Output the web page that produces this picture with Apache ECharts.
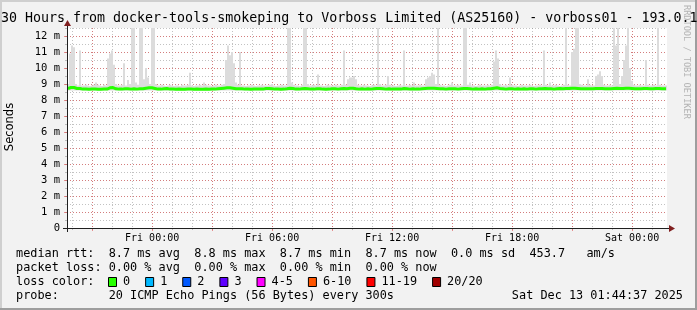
<!DOCTYPE html>
<html><head><meta charset="utf-8">
<script src="https://cdn.jsdelivr.net/npm/echarts@6/dist/echarts.min.js"></script>
<style>html,body{margin:0;padding:0;background:#f2f2f2}#c{width:697px;height:310px}</style>
</head><body><div id="c"></div>
<script>
// ---------- data ----------
const titleText = '30 Hours from docker-tools-smokeping to Vorboss Limited (AS25160) - vorboss01 - 193.0.1';
const startHour = 19 + 44 / 60 + 37 / 3600;   // Thu 19:44:37 in hours since Thu 00:00
const spanHours = 30;
const sampleStep = 0.1;                        // hours per sample
const minorHours = [20,21,22,23,24,25,26,27,28,29,30,31,32,33,34,35,36,37,38,39,40,41,42,43,44,45,46,47,48,49];
const majorHours = [21,24,27,30,33,36,39,42,45,48];
const labelHours = [24,30,36,42,48];
const labelTexts = ['Fri 00:00','Fri 06:00','Fri 12:00','Fri 18:00','Sat 00:00'];
const yMajorTicks = [0,1,2,3,4,5,6,7,8,9,10,11,12];
const minRtt = 8.6;

const medianRtt = [
8.72,8.78,8.8,8.78,8.72,8.7,8.72,8.68,8.68,8.68,8.67,8.67,8.68,8.68,8.68,8.67,8.67,8.68,8.68,8.68,
8.72,8.76,8.78,8.74,8.7,8.68,8.68,8.68,8.7,8.68,8.7,8.68,8.7,8.7,8.68,8.68,8.7,8.7,8.72,8.74,
8.76,8.78,8.76,8.72,8.7,8.68,8.68,8.67,8.7,8.72,8.7,8.68,8.68,8.67,8.67,8.68,8.68,8.67,8.67,8.68,
8.68,8.68,8.67,8.67,8.68,8.68,8.67,8.67,8.68,8.68,8.67,8.67,8.68,8.68,8.68,8.7,8.72,8.72,8.74,8.76,
8.78,8.76,8.74,8.72,8.7,8.7,8.72,8.7,8.68,8.68,8.68,8.67,8.68,8.68,8.68,8.67,8.68,8.68,8.7,8.72,
8.72,8.7,8.7,8.68,8.68,8.68,8.67,8.67,8.68,8.7,8.72,8.74,8.72,8.7,8.68,8.68,8.7,8.7,8.72,8.72,
8.7,8.68,8.68,8.68,8.7,8.72,8.7,8.68,8.68,8.67,8.68,8.68,8.7,8.7,8.68,8.68,8.7,8.72,8.72,8.7,
8.72,8.74,8.74,8.72,8.7,8.68,8.68,8.7,8.68,8.68,8.7,8.68,8.68,8.7,8.72,8.74,8.72,8.7,8.68,8.68,
8.7,8.7,8.68,8.68,8.7,8.68,8.68,8.7,8.72,8.7,8.68,8.68,8.7,8.7,8.68,8.68,8.7,8.7,8.72,8.72,
8.74,8.74,8.76,8.74,8.72,8.72,8.7,8.7,8.68,8.68,8.7,8.68,8.7,8.7,8.68,8.68,8.7,8.7,8.72,8.72,
8.7,8.7,8.68,8.68,8.7,8.68,8.68,8.7,8.68,8.68,8.7,8.7,8.72,8.74,8.76,8.74,8.72,8.7,8.68,8.68,
8.7,8.72,8.7,8.68,8.68,8.7,8.68,8.68,8.7,8.68,8.68,8.7,8.7,8.68,8.68,8.7,8.7,8.7,8.72,8.7,
8.7,8.7,8.68,8.68,8.7,8.7,8.72,8.7,8.7,8.72,8.72,8.72,8.74,8.74,8.72,8.72,8.7,8.7,8.7,8.7,
8.72,8.7,8.7,8.7,8.72,8.72,8.74,8.72,8.7,8.7,8.7,8.7,8.72,8.72,8.74,8.74,8.72,8.72,8.74,8.74,
8.74,8.72,8.72,8.7,8.7,8.7,8.7,8.7,8.72,8.72,8.7,8.7,8.7,8.7,8.72,8.72,8.7,8.7,8.7,8.7
];

const smokeMax = [
9.0,10.9,11.4,11.3,9.0,8.9,11.1,8.9,8.9,8.95,8.9,8.88,8.9,8.95,9.1,8.95,8.9,8.88,8.95,8.9,
10.6,10.9,11.1,10.2,9.0,8.9,8.9,8.95,10.3,8.9,9.25,9.0,13.5,13.5,9.1,8.95,13.5,13.2,9.3,10.0,
9.4,9.0,13.5,13.2,9.0,8.9,8.9,8.95,8.9,8.88,8.9,8.95,8.9,8.88,8.9,8.9,8.88,8.95,8.9,8.9,
8.95,9.7,8.9,8.88,8.9,8.9,8.95,8.9,9.1,8.95,8.9,8.9,8.88,8.9,8.95,8.9,8.9,8.95,9.0,10.5,
11.4,10.8,11.0,10.3,9.1,8.95,11.0,8.9,8.9,8.88,8.9,8.9,8.95,8.9,8.88,8.9,8.9,8.95,8.9,8.9,
8.9,8.95,9.0,8.9,8.88,8.9,8.9,8.95,8.9,8.9,13.5,13.5,9.1,8.95,8.9,8.9,8.88,8.95,13.5,13.2,
9.0,8.9,8.9,8.95,8.9,9.6,8.9,8.9,8.88,8.9,8.95,8.9,8.9,8.9,8.95,8.9,8.9,8.95,11.1,8.95,
9.3,9.4,9.4,9.5,9.3,8.95,8.9,8.9,8.95,8.9,8.9,8.88,8.9,8.95,8.9,13.5,9.0,8.9,8.9,8.95,
9.5,8.95,8.9,8.9,8.88,8.9,8.95,8.9,11.1,8.9,8.9,8.95,8.9,9.1,8.9,8.9,8.95,8.9,8.9,9.3,
9.4,9.5,9.7,9.6,9.0,13.5,8.95,8.9,8.9,8.88,8.9,8.95,9.1,8.9,8.9,8.95,8.9,8.9,13.5,13.5,
8.95,9.1,8.9,8.9,8.88,8.9,8.95,8.9,8.9,8.9,8.95,8.9,8.95,10.4,11.1,10.6,9.0,8.9,8.9,8.95,
8.9,9.4,8.95,8.9,8.9,8.88,8.9,8.95,8.9,8.9,8.9,8.95,8.9,8.88,8.9,8.9,8.95,8.9,11.1,8.95,
8.9,9.1,8.9,8.9,8.95,8.9,8.88,8.9,8.95,13.5,8.95,8.9,11.0,11.2,13.5,13.2,9.0,8.95,8.9,8.9,
9.3,8.95,8.9,8.9,9.5,9.6,9.8,9.5,8.95,8.9,8.9,8.95,8.9,13.5,11.4,13.5,9.0,9.5,10.5,11.4,
13.5,10.0,9.2,8.95,8.9,8.9,8.95,8.9,8.9,10.5,8.95,8.9,8.9,8.95,8.9,13.5,8.95,8.9,8.9,8.9
];

const statsLines = [
  'median rtt:  8.7 ms avg  8.8 ms max  8.7 ms min  8.7 ms now  0.0 ms sd  453.7   am/s',
  'packet loss: 0.00 % avg  0.00 % max  0.00 % min  0.00 % now',
  'loss color:',
  'probe:       20 ICMP Echo Pings (56 Bytes) every 300s'
];
const dateText = 'Sat Dec 13 01:44:37 2025';
const lossLabels = ['0','1','2','3','4-5','6-10','11-19','20/20'];
const lossColors = ['#26ff00','#00b8ff','#0059ff','#5e00ff','#ff00ff','#ff5500','#ff0000','#a10000'];
const sideText = 'RRDTOOL / TOBI OETIKER';

// ---------- build ----------
const MONO = "'DejaVu Sans Mono', monospace";
const gridCol = 'rgba(143,143,143,0.55)';
const mgridCol = 'rgba(222,79,79,0.6)';
const endHour = startHour + spanHours;
const smokeData = smokeMax.map((v, i) => [startHour + (i + 0.5) * sampleStep, minRtt, v]);
const lineData = medianRtt.map((v, i) => [startHour + (i + 0.5) * sampleStep, v]);

const GL = 67, GT = 28, GW = 600, GH = 200;
const CW = 7.13, LFS = 11.85;
const rowY = [254, 268, 282, 296];

const graphics = [];
// frame borders
graphics.push({type:'rect', shape:{x:0,y:0,width:697,height:2}, style:{fill:'#cfcfcf'}, silent:true});
graphics.push({type:'rect', shape:{x:0,y:0,width:2,height:310}, style:{fill:'#cfcfcf'}, silent:true});
graphics.push({type:'rect', shape:{x:695,y:0,width:2,height:310}, style:{fill:'#9e9e9e'}, silent:true});
graphics.push({type:'rect', shape:{x:0,y:308,width:697,height:2}, style:{fill:'#9e9e9e'}, silent:true});
// title
graphics.push({type:'text', x:1, y:19, style:{text:titleText, font:'13.3px ' + MONO, fill:'#000', textVerticalAlign:'middle', textAlign:'left'}});
// side text
graphics.push({type:'text', x:686, y:5, rotation:-Math.PI/2, style:{text:sideText, font:'8.6px ' + MONO, fill:'#b4b4b4', textVerticalAlign:'middle', textAlign:'left'}});
// axis extensions and arrows
graphics.push({type:'line', shape:{x1:63, y1:GT+GH+0.5, x2:671, y2:GT+GH+0.5}, style:{stroke:'#1f1f1f', lineWidth:1}, z:50});
graphics.push({type:'line', shape:{x1:GL+0.5, y1:232, x2:GL+0.5, y2:24}, style:{stroke:'#1f1f1f', lineWidth:1}, z:50});
graphics.push({type:'polygon', shape:{points:[[669,225],[675,228.5],[669,232]]}, style:{fill:'#801f1f'}, z:51});
graphics.push({type:'polygon', shape:{points:[[64,26],[67.5,20],[71,26]]}, style:{fill:'#801f1f'}, z:51});
// y axis title
graphics.push({type:'text', x:10.5, y:127, rotation:Math.PI/2, style:{text:'Seconds', font:"11.5px 'DejaVu Sans', sans-serif", fill:'#000', textAlign:'center', textVerticalAlign:'middle'}});
// stats lines
statsLines.forEach((s, k) => {
  graphics.push({type:'text', x:16, y:rowY[k], style:{text:s, font:LFS + 'px ' + MONO, fill:'#000', textVerticalAlign:'middle'}});
});
graphics.push({type:'text', x:683, y:rowY[3], style:{text:dateText, font:LFS + 'px ' + MONO, fill:'#000', textVerticalAlign:'middle', textAlign:'right'}});
// loss colour legend
let lx = 108;
lossLabels.forEach((lab, k) => {
  graphics.push({type:'rect', shape:{x:lx+0.5, y:rowY[2]-4.5, width:8, height:9}, style:{fill:lossColors[k], stroke:'#000', lineWidth:1}});
  graphics.push({type:'text', x:lx + 15, y:rowY[2], style:{text:lab, font:LFS + 'px ' + MONO, fill:'#000', textVerticalAlign:'middle'}});
  lx += 30 + CW * lab.length;
});

const xBase = {type:'value', min:startHour, max:endHour, position:'bottom', gridIndex:0, axisLine:{show:false}};
const option = {
  animation: false,
  backgroundColor: '#f2f2f2',
  grid: {left:GL, top:GT, width:GW, height:GH, show:true, backgroundColor:'#ffffff', borderWidth:0},
  xAxis: [
    Object.assign({}, xBase, {
      axisTick:{show:true, customValues:minorHours, length:2, inside:false, lineStyle:{color:gridCol}},
      axisLabel:{show:false},
      splitLine:{show:true, lineStyle:{color:gridCol, type:[1,2], width:1}}
    }),
    Object.assign({}, xBase, {
      axisTick:{show:true, customValues:majorHours, length:3, lineStyle:{color:mgridCol}},
      axisLabel:{show:false},
      splitLine:{show:true, lineStyle:{color:mgridCol, type:[1,2], width:1}}
    }),
    Object.assign({}, xBase, {
      axisTick:{show:false, customValues:labelHours},
      axisLabel:{show:true, customValues:labelHours, margin:5, fontFamily:MONO, fontSize:10, color:'#000',
        formatter:(v) => { const k = labelHours.indexOf(Math.round(v)); return k >= 0 ? labelTexts[k] : ''; }},
      splitLine:{show:false}
    })
  ],
  yAxis: [
    {type:'value', min:0, max:12.5, interval:0.5, position:'left', axisLine:{show:false},
     axisTick:{show:true, length:2, lineStyle:{color:gridCol}}, axisLabel:{show:false},
     splitLine:{show:true, lineStyle:{color:gridCol, type:[1,2], width:1}}},
    {type:'value', min:0, max:12.5, position:'left', axisLine:{show:false},
     axisTick:{show:true, customValues:yMajorTicks, length:3, lineStyle:{color:mgridCol}},
     axisLabel:{show:true, customValues:yMajorTicks, margin:7, fontFamily:MONO, fontSize:10.5, color:'#000',
       formatter:(v) => v === 0 ? '0' : v + ' m'},
     splitLine:{show:true, lineStyle:{color:mgridCol, type:[1,2], width:1}}}
  ],
  series: [
    {type:'custom', xAxisIndex:0, yAxisIndex:0, data:smokeData, z:2,
     renderItem:function(params, api){
       const t = api.value(0), lo = api.value(1), hi = api.value(2);
       const a = api.coord([t - sampleStep/2, hi]);
       const b = api.coord([t + sampleStep/2, lo]);
       const cs = params.coordSys;
       const r = echarts.graphic.clipRectByRect({x:a[0], y:a[1], width:b[0]-a[0], height:b[1]-a[1]},
                                                {x:cs.x, y:cs.y, width:cs.width, height:cs.height});
       return r ? {type:'rect', shape:r, style:{fill:'#dcdcdc'}} : null;
     }},
    {type:'line', xAxisIndex:0, yAxisIndex:0, data:lineData, step:'middle', symbol:'none', z:3,
     lineStyle:{color:'#26ff00', width:3}}
  ],
  graphic: graphics
};
const chart = echarts.init(document.getElementById('c'), null, {renderer:'canvas'});
chart.setOption(option);
</script></body></html>
